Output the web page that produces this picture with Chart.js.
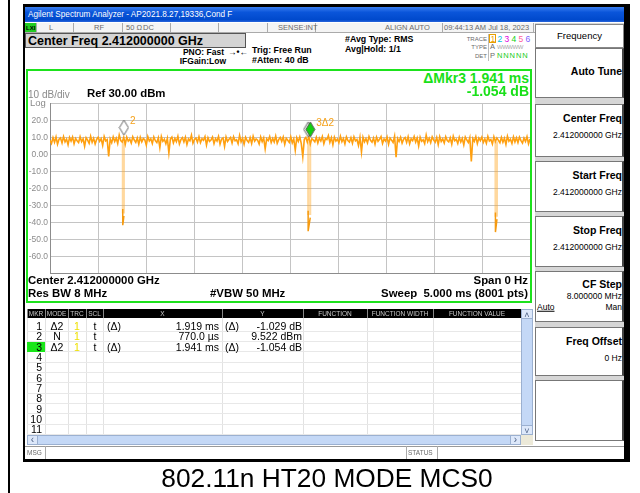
<!DOCTYPE html>
<html>
<head>
<meta charset="utf-8">
<title>802.11n HT20 MODE MCS0</title>
<script src="https://cdn.jsdelivr.net/npm/chart.js@4.4.1/dist/chart.umd.min.js"></script>
<style>
  html, body { margin: 0; padding: 0; }
  body { width: 640px; height: 493px; position: relative; overflow: hidden; background: #fff;
         font-family: "Liberation Sans", Arial, sans-serif; color: #000; }
  .bx { position: absolute; box-sizing: border-box; }
  .lb { position: absolute; white-space: nowrap; line-height: 1; z-index: 5; }
  #chart { position: absolute; left: 28px; top: 96px; z-index: 3; }
</style>
</head>
<body>
<canvas id="chart" width="502" height="185"></canvas>
<script>
// sweep: 0 .. 5 ms, trace 1 (dBm)
var sweepMs = 5;
var trace = [
  8.2, 6.4, 9.8, 7.1, 10.2, 5.9, 8.8, 9.6, 6.7, 10.4, 7.3, 8.9, 5.6, 9.9, 7.8, 10.1, 6.2, 9.3, 8.0, 6.9,
  10.3, 7.4, 9.1, 4.8, 9.7, 8.3, 6.5, 10.6, 7.0, 9.4, 6.1, 8.7, 10.0, 7.6, 9.2, 5.3, 10.5, 7.9, 8.6, -1.2,
  9.0, 6.8, 10.2, 7.5, 9.5, 6.3, 11.4, 8.1, 7.2, 9.9, 5.8, 10.1, 7.7, 8.9, 6.6, 10.3, 8.4, 7.0, 9.6, 6.0,
  10.0, 7.3, 9.2, 8.5, 5.4, 10.4, 7.8, 9.1, 6.4, 10.2, 8.0, 6.9, 9.7, 3.9, 10.5, 7.6, 8.8, 6.2, 9.4, 0.8,
  8.9, 10.1, 6.7, 9.3, 7.4, 10.6, 6.1, 8.6, 9.8, 7.2, 10.0, 5.7, 9.0, 7.9, 11.2, 6.5, 8.7, 9.5, 7.1, 10.3,
  6.8, 9.1, 8.2, 10.4, 5.5, 9.7, 7.6, 8.4, 10.1, 6.3, 9.2, 7.8, 10.5, 6.0, 8.9, 9.6, 4.6, 10.2, 7.5, 8.8,
  9.9, 6.6, 10.3, 7.9, 8.5, 6.2, 11.1, 7.3, 9.4, 5.9, 10.0, 8.1, 7.0, 9.8, 6.4, 10.6, 7.7, 9.0, 8.3, 6.1,
  10.2, 7.4, 9.6, 3.2, 9.1, 8.0, 10.4, 6.9, 9.3, 7.2, 10.7, 6.5, 8.6, 9.9, 7.6, 10.1, 5.8, 9.4, 8.2, 7.0,
  10.3, 6.7, 9.0, 2.4, 9.7, 7.5, 10.2, 6.3, -1.3, 8.8, 9.9, 7.1, 10.5, 6.0, 9.2, 8.4, 7.3, 10.0, 6.6, 9.5,
  7.8, 10.4, 6.2, 9.1, 8.6, 11.0, 7.0, 9.8, 5.6, 10.1, 7.7, 8.9, 6.8, 10.6, 7.4, 9.3, 6.1, 10.2, 8.1, 7.2,
  9.7, 6.5, 10.3, 7.9, 8.7, 5.2, 9.9, 1.4, 10.0, 7.3, 9.2, 6.7, 10.5, 8.2, 7.1, 9.6, 6.0, 10.1, 7.6, 8.8,
  10.4, 6.4, 9.0, 7.8, 10.2, 5.9, 9.5, 8.3, 6.9, 10.6, -1.6, 9.3, 7.5, 10.0, 6.6, 8.9, 9.8, 7.0, 10.3, 6.2,
  9.1, 8.0, 10.5, 7.2, 9.6, 4.9, 10.1, 7.7, 8.6, 6.3, 11.3, 7.4, 9.4, 6.8, 10.2, 8.3, 7.1, 9.9, 5.7, 10.4,
  7.5, 9.0, 6.6, 10.3, 8.1, 7.3, 9.7, 6.0, 10.6, 7.9, 8.8, 6.4, 10.0, 7.2, 9.3, 5.5, 10.2, 8.4, 6.9, 9.8,
  -4.2, 9.2, 7.6, 10.4, 6.3, 9.5, 8.0, 10.1, 7.0, 9.0, 6.5, 10.5, 7.8, 8.7, 6.1, 10.3, 7.4, 9.6, 8.2, 6.8,
  10.0, 7.1, 9.4, 5.8, 10.6, 7.7, 8.9, 6.4, 10.2, 7.3, 9.7, 6.9, 10.1, 8.0, 6.6, 9.5, 7.5, 10.3, 6.2, 9.0
];
// burst gaps (ms) and how deep they go (dBm)
var dipStart = [0.758, 2.689, 4.640];
var dipEnd = [0.770, 2.711, 4.656];
var dipTop = [7.5, 7.5, 7.5];
var dipKnee = [-34, -35, -36];
var dipFloor = [-41.5, -45, -45.5];
// markers 1..3
var markerTimes = [2.689, 0.770, 2.711];
var markerLevels = [8.493, 9.522, 8.468];
var markerTags = ['', '2', '3\u03942'];

// marker table
var mkrNo = ['1', '2', '3', '4', '5', '6', '7', '8', '9', '10', '11'];
var mkrMode = ['\u03942', 'N', '\u03942'];
var mkrTrc = ['1', '1', '1'];
var mkrScl = ['t', 't', 't'];
var mkrXRef = ['(\u0394)', '', '(\u0394)'];
var mkrX = ['1.919 ms', '770.0 \u00b5s', '1.941 ms'];
var mkrYRef = ['(\u0394)', '', '(\u0394)'];
var mkrY = ['-1.029 dB', '9.522 dBm', '-1.054 dB'];

// softkeys
var softTitles = ['Auto Tune', 'Center Freq', 'Start Freq', 'Stop Freq', 'CF Step', 'Freq Offset', ''];
var softValues = ['', '2.412000000 GHz', '2.412000000 GHz', '2.412000000 GHz', '8.000000 MHz', '0 Hz', ''];
var softTops = [48, 104, 161, 216, 271, 327, 380];
var softBottoms = [98, 157, 212, 267, 322, 376, 441];

function box(x, y, w, h, css) {
  var d = document.createElement('div');
  d.className = 'bx';
  d.style.cssText = 'left:' + x + 'px;top:' + y + 'px;width:' + w + 'px;height:' + h + 'px;' + (css || '');
  document.body.appendChild(d);
  return d;
}

function label(txt, x, y, size, opt) {
  opt = opt || {};
  var d = document.createElement('div');
  d.className = 'lb';
  d.textContent = txt;
  d.style.left = x + 'px';
  d.style.top = y + 'px';
  d.style.fontSize = size + 'px';
  if (opt.bold) d.style.fontWeight = 'bold';
  if (opt.color) d.style.color = opt.color;
  if (opt.css) d.style.cssText += opt.css;
  var tx = opt.align === 'right' ? '-100%' : (opt.align === 'center' ? '-50%' : '0');
  d.style.transform = 'translate(' + tx + ',-50%)';
  document.body.appendChild(d);
  return d;
}

// page + screenshot frame
box(8, 0, 2, 493, 'background:#000');
box(23, 4, 607, 458, 'background:#000');
box(25, 7, 599, 452, 'background:#fff');
box(25, 7, 599, 15, 'background:linear-gradient(#3b7ff0,#0a55da 35%,#0049cc 85%,#2a66dc)');
label('Agilent Spectrum Analyzer - AP2021.8.27,19336,Cond F', 28, 15, 8.2, {color: '#fff'});

// status row
box(25, 23, 510, 10, 'background:#f4f4f4;border-bottom:1px solid #aaa');
box(25, 23, 11, 9, 'background:#22cc22');
label('LXI', 26, 27.5, 6, {bold: true});
[36, 73, 122, 170, 218, 267, 315, 442, 533].forEach(function (x) { box(x, 23, 1, 9, 'background:#aaa'); });
var grey = '#6a6a6a';
label('L', 49, 27.5, 7.5, {color: grey});
label('RF', 94, 27.5, 7.5, {color: grey});
label('50 \u03a9', 126, 27.5, 7.5, {color: grey});
label('DC', 143, 27.5, 7.5, {color: grey});
label('SENSE:INT', 278, 27.5, 7.5, {color: grey});
label('ALIGN AUTO', 385, 27.5, 7.5, {color: grey});
label('09:44:13 AM Jul 18, 2023', 444, 27.5, 7.5, {color: grey});

// center freq readout
box(25, 33, 221, 15, 'background:#d4d4d4;border:1px solid #555');
label('Center Freq 2.412000000 GHz', 28, 40.5, 12.5, {bold: true});
label('PNO: Fast', 224, 51.5, 8.5, {bold: true, align: 'right'});
label('\u2192\u2022\u2190', 228, 51.5, 8.5, {bold: true});
label('IFGain:Low', 226, 61, 8.5, {bold: true, align: 'right'});
label('Trig: Free Run', 252, 49.5, 8.8, {bold: true});
label('#Atten: 40 dB', 252, 60, 8.8, {bold: true});
label('#Avg Type: RMS', 345, 39, 8.8, {bold: true});
label('Avg|Hold: 1/1', 345, 49, 8.8, {bold: true});

// trace status block
box(488, 34, 1, 27, 'background:#bbb');
label('TRACE', 487, 38.5, 6, {color: grey, align: 'right'});
label('TYPE', 487, 47, 6, {color: grey, align: 'right'});
label('DET', 487, 56, 6, {color: grey, align: 'right'});
box(489, 34, 7, 9, 'border:1px solid #e8a000');
var traceCols = ['#f0a000', '#00c0e0', '#e000e0', '#10d010', '#ff5fa0', '#8060ff'];
traceCols.forEach(function (c, i) { label(String(i + 1), 490.5 + i * 7, 38.5, 8.5, {color: c}); });
label('A', 490, 47, 7.5, {color: grey});
label('WWWWW', 497, 47, 6, {color: '#aaa', css: 'letter-spacing:-0.5px'});
label('P', 490, 56, 7.5, {color: grey});
label('N N N N N', 497, 56, 7.5, {color: '#22cc22', css: 'letter-spacing:-0.6px'});

// softkeys
box(535, 23, 89, 418, 'background:#d6d6d6');
box(535, 24, 89, 24, 'background:#fff;border:1px solid #888');
label('Frequency', 579.5, 35.5, 9.5, {align: 'center'});
softTitles.forEach(function (t, i) {
  var top = softTops[i];
  box(535, top, 89, softBottoms[i] - top, 'background:#fff;border:1px solid #777;border-right:2px solid #444');
  if (i === 0) { label(t, 622, 71, 10.5, {bold: true, align: 'right'}); return; }
  if (i === 4) {
    label(t, 622, top + 13, 10.5, {bold: true, align: 'right'});
    label(softValues[i], 622, top + 25, 8.5, {align: 'right'});
    label('Auto', 537, top + 36, 8.5, {css: 'text-decoration:underline'});
    label('Man', 622, top + 36, 8.5, {align: 'right'});
    return;
  }
  if (t) {
    label(t, 622, top + 14, 10.5, {bold: true, align: 'right'});
    label(softValues[i], 622, top + 31, 8.5, {align: 'right'});
  }
});

// plot frame
box(26, 69, 506, 234, 'background:#fff;border:2px solid #1de21d;z-index:1');
label('\u0394Mkr3 1.941 ms', 529, 77.5, 14, {bold: true, color: '#19e019', align: 'right'});
label('-1.054 dB', 529, 91, 14, {bold: true, color: '#19e019', align: 'right'});
label('10 dB/div', 28, 94.5, 10, {color: '#8a8a8a'});
label('Ref 30.00 dBm', 87, 94, 11.4, {bold: true});
label('Log', 30, 102.5, 9.5, {color: '#8a8a8a'});
label('Center 2.412000000 GHz', 28, 281, 11.4, {bold: true});
label('Res BW 8 MHz', 28, 294, 11.4, {bold: true});
label('#VBW 50 MHz', 210, 294, 11.4, {bold: true});
label('Span 0 Hz', 528, 281, 11.4, {bold: true, align: 'right'});
label('Sweep  5.000 ms (8001 pts)', 528, 294, 11.4, {bold: true, align: 'right', css: 'white-space:pre'});

// marker table
var cols = [27, 45, 68, 86, 103, 222, 303, 367, 433, 521];
var heads = ['MKR', 'MODE', 'TRC', 'SCL', 'X', 'Y', 'FUNCTION', 'FUNCTION WIDTH', 'FUNCTION VALUE'];
box(26, 304, 507, 142, 'background:#fff');
box(27, 309, 494, 9, 'background:#000');
heads.forEach(function (h, i) {
  box(cols[i], 309, 1, 9, 'background:#888');
  label(h, (cols[i] + cols[i + 1]) / 2, 313.5, 6.5, {color: '#c8c8c8', align: 'center'});
});
var rowH = 10.33;
cols.forEach(function (x) { box(x, 318, 1, 117, 'background:#e2e2e2'); });
mkrNo.forEach(function (n, r) {
  var yt = 321 + r * rowH, yc = yt + rowH / 2;
  box(27, yt + rowH - 0.5, 494, 1, 'background:#e8e8e8');
  if (r === 2) box(27, yt + 0.5, 18, rowH, 'background:#19e619');
  label(n, 42, yc, 10.5, {align: 'right'});
  if (r < mkrMode.length) {
    label(mkrMode[r], 57, yc, 10.5, {align: 'center'});
    label(mkrTrc[r], 77, yc, 10.5, {align: 'center', color: '#eee000'});
    label(mkrScl[r], 95, yc, 10.5, {align: 'center'});
    label(mkrXRef[r], 107, yc, 10.5);
    label(mkrX[r], 219, yc, 10.5, {align: 'right'});
    label(mkrYRef[r], 225, yc, 10.5);
    label(mkrY[r], 302, yc, 10.5, {align: 'right'});
  }
});
// scrollbars
box(521, 309, 12, 126, 'background:#c4d8f6;border:1px solid #9bb0d0');
box(521, 309, 12, 10, 'background:#dde8fa;border:1px solid #9bb0d0');
box(521, 425, 12, 10, 'background:#dde8fa;border:1px solid #9bb0d0');
label('\u02c4', 527, 314.5, 9, {align: 'center', color: '#4d6185'});
label('\u02c5', 527, 430.5, 9, {align: 'center', color: '#4d6185'});
box(27, 435, 494, 10, 'background:#c4d8f6;border:1px solid #9bb0d0');
box(27, 435, 11, 10, 'background:#dde8fa;border:1px solid #9bb0d0');
box(510, 435, 11, 10, 'background:#dde8fa;border:1px solid #9bb0d0');
label('\u2039', 32.5, 439.5, 10, {align: 'center', color: '#4d6185'});
label('\u203a', 515.5, 439.5, 10, {align: 'center', color: '#4d6185'});
box(521, 435, 12, 10, 'background:#ece9d8');

// message line
box(25, 446, 599, 13, 'background:#fff;border-top:1px solid #999');
box(45, 446, 1, 13, 'background:#aaa');
box(406, 446, 1, 13, 'background:#aaa');
box(437, 446, 1, 13, 'background:#aaa');
label('MSG', 27, 452.5, 6.5, {color: grey});
label('STATUS', 408, 452.5, 6.5, {color: grey});

// caption
label('802.11n HT20 MODE MCS0', 327, 478, 26.3, {align: 'center'});

// ---------- chart ----------
var tracePts = trace.map(function (v, i) { return {x: i * sweepMs / (trace.length - 1), y: v}; });
var dipEdges = [], dipBottoms = [];
dipStart.forEach(function (t0, i) {
  var t1 = dipEnd[i];
  dipEdges.push({x: t0, y: dipTop[i]}, {x: t0, y: dipKnee[i]}, {x: t1, y: dipKnee[i]}, {x: t1, y: dipTop[i]}, {x: t1, y: null});
  dipBottoms.push({x: t0, y: dipKnee[i] + 2}, {x: t0, y: dipFloor[i]}, {x: t1, y: dipKnee[i] - 2}, {x: t1, y: null});
});
var markerPts = markerTimes.map(function (t, i) { return {x: t, y: markerLevels[i]}; });

function diamond(fill, stroke) {
  var c = document.createElement('canvas');
  c.width = 11; c.height = 38;
  var g = c.getContext('2d');
  g.beginPath();
  g.moveTo(5.5, 1); g.lineTo(10, 8.5); g.lineTo(5.5, 16); g.lineTo(1, 8.5); g.closePath();
  g.fillStyle = fill; g.fill();
  g.lineWidth = 1; g.strokeStyle = stroke; g.stroke();
  return c;
}
var markerImgs = [diamond('#fff', '#666'), diamond('#fff', '#666'), diamond('#12d012', '#555')];

var markerText = {
  id: 'markerText',
  afterDatasetsDraw: function (chart) {
    var meta = chart.getDatasetMeta(3);
    var ctx = chart.ctx;
    ctx.save();
    ctx.font = '10px "Liberation Sans", Arial, sans-serif';
    ctx.fillStyle = '#f5a21c';
    ctx.textBaseline = 'middle';
    meta.data.forEach(function (pt, i) {
      if (markerTags[i]) ctx.fillText(markerTags[i], pt.x + 6, pt.y - 17);
    });
    ctx.restore();
  }
};

var gridCol = '#c4c4c4';
new Chart(document.getElementById('chart').getContext('2d'), {
  type: 'line',
  data: {
    datasets: [
      {label: 'Trace 1', data: tracePts, borderColor: '#ffa010', borderWidth: 1.6, pointRadius: 0, order: 3},
      {label: 'gap edges', data: dipEdges, borderColor: 'rgba(255,168,40,0.45)', borderWidth: 2, pointRadius: 0, spanGaps: false, order: 4},
      {label: 'gap floor', data: dipBottoms, borderColor: '#f59a10', borderWidth: 1.5, pointRadius: 0, spanGaps: false, order: 2},
      {label: 'markers', data: markerPts, showLine: false, pointStyle: markerImgs, pointRadius: 6, order: 0}
    ]
  },
  options: {
    responsive: false,
    animation: false,
    layout: {autoPadding: false, padding: {top: 6.7, bottom: 6.3, left: 0, right: 0}},
    plugins: {legend: {display: false}, tooltip: {enabled: false}},
    elements: {line: {tension: 0}},
    scales: {
      x: {
        type: 'linear', min: 0, max: sweepMs,
        ticks: {display: false, stepSize: 0.5},
        grid: {color: gridCol, drawTicks: false},
        border: {color: '#8c8c8c'}
      },
      y: {
        min: -70, max: 30,
        ticks: {
          stepSize: 10, padding: 2, color: '#8c8c8c',
          font: {size: 8.5, family: '"Liberation Sans", Arial, sans-serif'},
          callback: function (v) { return (v === 30 || v === -70) ? '' : (v === 0 ? '0.00' : v.toFixed(1)); }
        },
        grid: {color: gridCol, drawTicks: false},
        border: {color: '#8c8c8c'},
        afterFit: function (s) { s.width = 22; }
      }
    }
  },
  plugins: [markerText]
});
</script>
</body>
</html>
